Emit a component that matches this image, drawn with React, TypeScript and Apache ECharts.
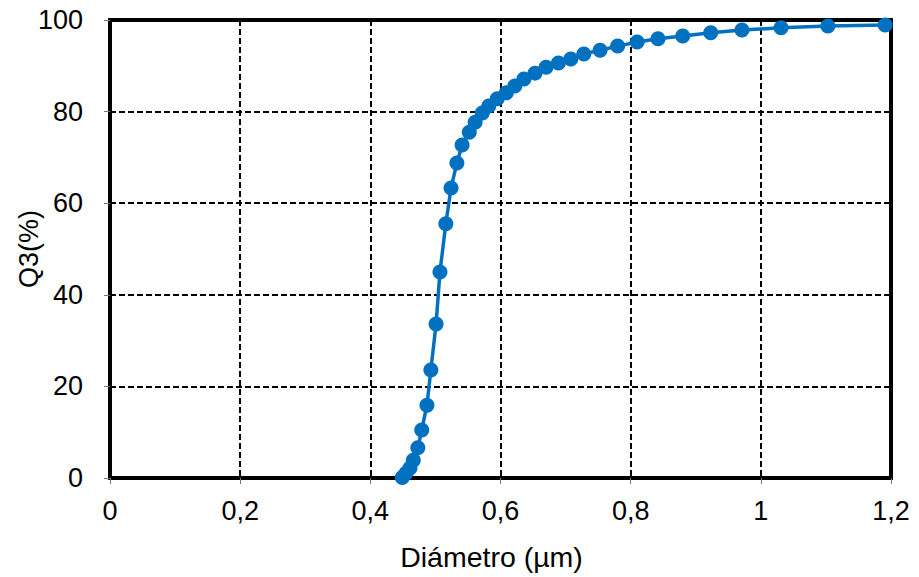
import React, { useEffect, useRef } from "react";
import * as echarts from "echarts";

const diameter: number[] = [
  0.449, 0.455, 0.461, 0.466, 0.473, 0.479, 0.487, 0.493, 0.501, 0.507, 0.516,
  0.524, 0.533, 0.541, 0.552, 0.561, 0.572, 0.582, 0.595, 0.609, 0.622, 0.636,
  0.653, 0.67, 0.689, 0.708, 0.728, 0.753, 0.78, 0.81, 0.842, 0.88, 0.923,
  0.971, 1.031, 1.103, 1.191,
];
const q3: number[] = [
  0.1, 1.1, 2.2, 3.9, 6.6, 10.5, 15.9, 23.6, 33.6, 45.0, 55.5, 63.3, 68.8, 72.7,
  75.5, 77.7, 79.7, 81.2, 82.8, 84.1, 85.6, 87.1, 88.4, 89.7, 90.6, 91.5, 92.6,
  93.4, 94.3, 95.2, 95.9, 96.5, 97.2, 97.8, 98.3, 98.7, 98.9,
];

const FONT = "'Liberation Sans', Arial, sans-serif";
const FS = 27;

export default function App() {
  const ref = useRef<HTMLDivElement>(null);
  useEffect(() => {
    if (!ref.current) return;
    const chart = echarts.init(ref.current, undefined, { renderer: "svg" });
    const gridLine = { show: true, lineStyle: { color: "#000", width: 2, type: [6, 3] as any } };
    chart.setOption({
      animation: false,
      backgroundColor: "#fff",
      textStyle: { fontFamily: FONT, color: "#000" },
      grid: {
        left: 110,
        right: 28,
        top: 20,
        bottom: 99,
        containLabel: false,
        outerBoundsMode: "none",
        show: true,
        borderColor: "#000",
        borderWidth: 4,
        backgroundColor: "transparent",
      },
      xAxis: {
        type: "value",
        min: 0,
        max: 1.2,
        interval: 0.2,
        name: "Diámetro (µm)",
        nameLocation: "middle",
        nameGap: 64,
        nameMoveOverlap: false,
        nameTextStyle: { fontSize: 28.5, color: "#000", fontFamily: FONT, padding: [0, 18, 0, 0] },
        axisLine: { show: true, onZero: false, lineStyle: { color: "#000", width: 4 } },
        axisTick: { show: true, inside: false, length: 6, lineStyle: { color: "#777", width: 1 } },
        axisLabel: {
          fontSize: FS,
          color: "#000",
          fontFamily: FONT,
          margin: 19,
          formatter: (v: number) => String(Math.round(v * 10) / 10).replace(".", ","),
        },
        splitLine: gridLine,
      },
      yAxis: {
        type: "value",
        min: 0,
        max: 100,
        interval: 20,
        name: "Q3(%)",
        nameLocation: "middle",
        nameGap: 68,
        nameMoveOverlap: false,
        nameTextStyle: { fontSize: FS, color: "#000", fontFamily: FONT },
        axisLine: { show: true, onZero: false, lineStyle: { color: "#000", width: 4 } },
        axisTick: { show: true, inside: false, length: 6, lineStyle: { color: "#777", width: 1 } },
        axisLabel: { fontSize: FS, color: "#000", fontFamily: FONT, margin: 27 },
        splitLine: gridLine,
      },
      series: [
        {
          type: "line",
          data: diameter.map((d, i) => [d, q3[i]]),
          symbol: "circle",
          symbolSize: 15,
          showAllSymbol: true,
          lineStyle: { color: "#0070C0", width: 3.5 },
          itemStyle: { color: "#0070C0" },
          z: 5,
        },
      ],
    });
    return () => chart.dispose();
  }, []);
  return (
    <div
      ref={ref}
      style={{ position: "fixed", left: 0, top: 0, width: 919, height: 577, background: "#fff" }}
    />
  );
}
